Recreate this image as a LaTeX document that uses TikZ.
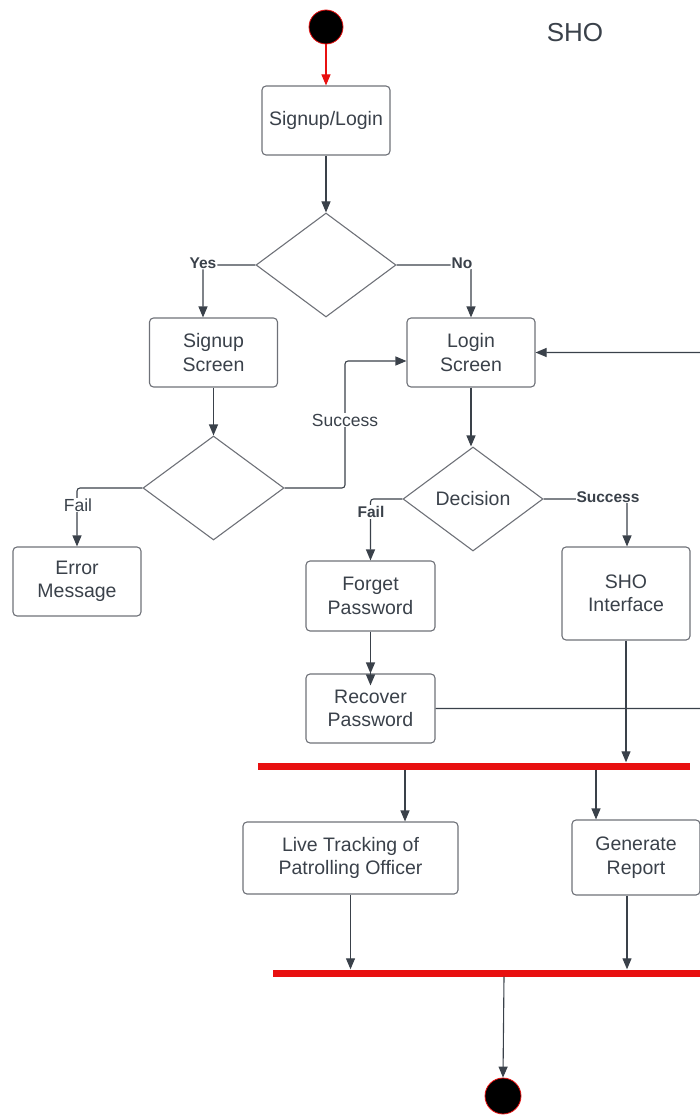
\documentclass[tikz,border=0pt]{standalone}
\usepackage{fontspec}
\setmainfont{Liberation Sans}
\usetikzlibrary{arrows.meta,shapes.geometric}
\definecolor{lc}{HTML}{3A414A}
\definecolor{bc}{HTML}{6E7178}
\definecolor{rd}{HTML}{E81010}
\begin{document}
\begin{tikzpicture}[x=1pt,y=-1pt,
  box/.style={draw=bc,line width=1.1pt,rounded corners=4pt,text=lc,align=center,inner sep=0pt,
    font=\fontsize{19.5}{23.5}\selectfont},
  dia/.style={draw=bc,line width=1.1pt,diamond,inner sep=0pt,text=lc,
    font=\fontsize{19.5}{23.5}\selectfont,minimum width=140pt,minimum height=104pt},
  conn/.style={draw=lc,line width=1.1pt,rounded corners=3pt,-{Triangle[length=11pt,width=9pt]}},
  lbl/.style={fill=white,inner sep=1pt,text=lc,font=\fontsize{17.5}{20}\selectfont},
  blbl/.style={fill=white,inner sep=1pt,text=lc,font=\bfseries\fontsize{15.5}{18}\selectfont},
  bar/.style={fill=rd,draw=none,minimum height=7pt,inner sep=0pt},
  dot/.style={circle,fill=black,draw=rd,line width=0.8pt,minimum size=34pt,inner sep=0pt}]
\useasboundingbox (0,0) rectangle (700,1115);
\clip (0,0) rectangle (700,1115);

\node[dot] (start) at (326,27) {};
\node[text=lc,font=\fontsize{26}{30}\selectfont] (title) at (575,33) {SHO};

\node[box,minimum width=128pt,minimum height=69pt] (signlogin) at (326,120.5) {Signup/Login};
\node[dia] (d1) at (326,265) {};
\node[box,minimum width=128pt,minimum height=69pt] (signup) at (213.5,352.5) {Signup\\Screen};
\node[box,minimum width=128pt,minimum height=69pt] (login) at (471,352.5) {Login\\Screen};
\node[dia,minimum width=141pt] (d2) at (213.5,488) {};
\node[box,minimum width=128pt,minimum height=69pt] (error) at (77,581.5) {Error\\Message};
\node[dia] (dec) at (473,499) {Decision};
\node[box,minimum width=129pt,minimum height=70pt] (forget) at (370.5,596) {Forget\\Password};
\node[box,minimum width=128pt,minimum height=93pt] (sho) at (626,593.5) {SHO\\Interface};
\node[box,minimum width=129pt,minimum height=69pt] (recover) at (370.5,708.5) {Recover\\Password};
\node[bar,minimum width=432pt] (bar1) at (474,766) {};
\node[box,minimum width=215pt,minimum height=72pt] (live) at (350.5,858) {Live Tracking of\\Patrolling Officer};
\node[box,minimum width=128pt,minimum height=75pt] (report) at (636,857.5) {Generate\\Report};
\node[bar,minimum width=437pt] (bar2) at (491.5,973) {};
\node[dot,minimum size=36pt] (end) at (503,1096) {};

\coordinate (sx) at (345,361);
\coordinate (rr) at (712,708.5);

\draw[conn,draw=rd,color=rd] (start) -- (signlogin.north);
\draw[conn] (signlogin.south) -- (d1.north);
\draw[conn] (d1.west) -| ([xshift=-10.5pt]signup.north) node[pos=0.5,blbl,yshift=2pt] {Yes};
\draw[conn] (d1.east) -| (login.north) node[pos=0.5,blbl,xshift=-9pt,yshift=2pt] {No};
\draw[conn] (signup.south) -- (d2.north);
\draw[conn] (d2.east) -| (sx) -- (sx -| login.west);
\node[lbl] at (345,420) {Success};
\draw[conn] (d2.west) -| (error.north);
\node[lbl] at (78,505) {Fail};
\draw[conn] (login.south) -- (login.south |- dec.north);
\draw[conn] (dec.west) -| (forget.north);
\node[blbl] at (371,512) {Fail};
\draw[conn] (dec.east) -| ([xshift=1pt]sho.north);
\node[blbl] at (608,497) {Success};
\draw[conn] (forget.south) -- (recover.north);
\draw[conn] (forget.south) -- ([yshift=-12pt]recover.north);
\draw[conn] (recover.east) -- (rr) |- (login.east);
\draw[conn] (sho.south) -- (sho.south |- bar1.north);
\draw[conn] ([xshift=-69pt]bar1.south) -- ([xshift=-69pt]bar1.south |- live.north);
\draw[conn] ([xshift=122pt]bar1.south) -- ([xshift=122pt]bar1.south |- report.north);
\draw[conn] (live.south) -- (live.south |- bar2.north);
\draw[conn] ([xshift=-9pt]report.south) -- ([xshift=-9pt]report.south |- bar2.north);
\draw[conn] ([xshift=12.5pt]bar2.south) -- (end.north);
\end{tikzpicture}
\end{document}
